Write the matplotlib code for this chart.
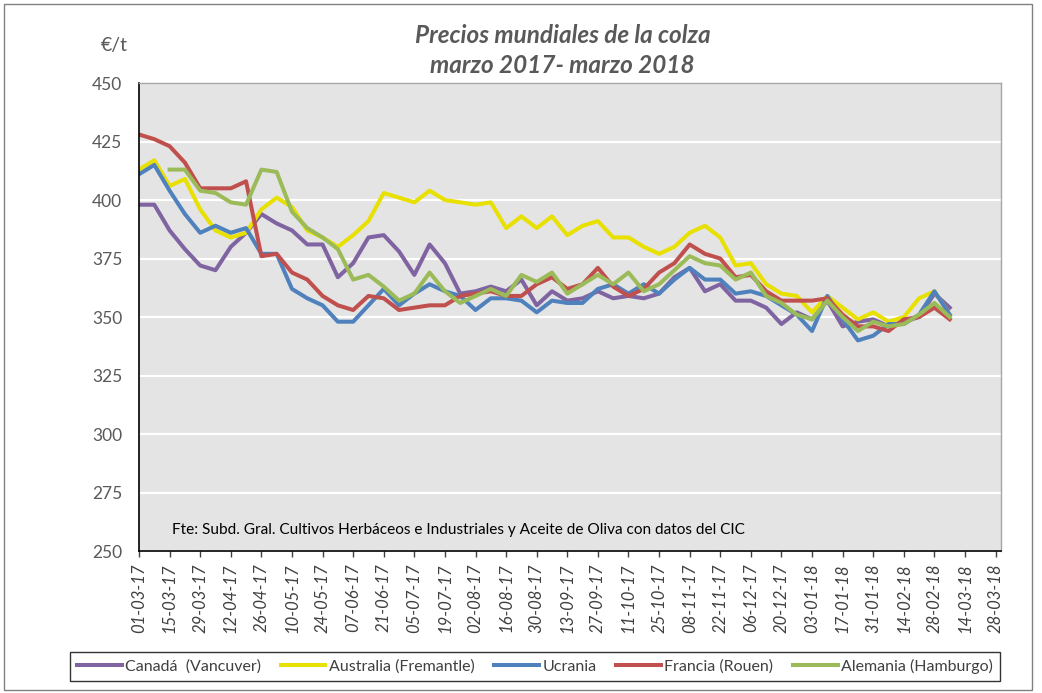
import pandas as pd
import numpy as np
import matplotlib
matplotlib.use("Agg")
import matplotlib.pyplot as plt
import matplotlib.dates as mdates
from matplotlib.patches import Rectangle

plt.rcParams['font.family'] = ['Lato', 'DejaVu Sans']

# Weekly prices (EUR/t), first week 01-03-17
START = "2017-03-01"
canada = [398, 398, 387, 379, 372, 370, 380, 386, 394, 390,
          387, 381, 381, 367, 373, 384, 385, 378, 368, 381,
          373, 360, 361, 363, 361, 366, 355, 361, 357, 358,
          361, 358, 359, 358, 360, 367, 371, 361, 364, 357,
          357, 354, 347, 352, 349, 357, 346, 348, 349, 346,
          348, 350, 360, 354]
australia = [413, 417, 406, 409, 396, 387, 384, 386, 396, 401,
             397, 387, 384, 380, 385, 391, 403, 401, 399, 404,
             400, 399, 398, 399, 388, 393, 388, 393, 385, 389,
             391, 384, 384, 380, 377, 380, 386, 389, 384, 372,
             373, 364, 360, 359, 352, 359, 354, 349, 352, 348,
             350, 358, 361, 351]
ucrania = [411, 415, 404, 394, 386, 389, 386, 388, 377, 377,
           362, 358, 355, 348, 348, 355, 362, 355, 360, 364,
           361, 359, 353, 358, 358, 357, 352, 357, 356, 356,
           362, 364, 360, 364, 360, 366, 371, 366, 366, 360,
           361, 359, 355, 351, 344, 359, 349, 340, 342, 347,
           347, 351, 361, 351]
francia = [428, 426, 423, 416, 405, 405, 405, 408, 376, 377,
           369, 366, 359, 355, 353, 359, 358, 353, 354, 355,
           355, 359, 360, 361, 359, 359, 364, 367, 362, 364,
           371, 363, 359, 362, 369, 373, 381, 377, 375, 367,
           368, 361, 357, 357, 357, 358, 351, 346, 346, 344,
           349, 350, 354, 349]
alemania = [np.nan, np.nan, 413, 413, 404, 403, 399, 398, 413, 412,
            395, 388, 384, 379, 366, 368, 363, 357, 360, 369,
            361, 356, 359, 362, 359, 368, 365, 369, 360, 364,
            368, 364, 369, 361, 364, 370, 376, 373, 372, 366,
            369, 359, 356, 351, 349, 357, 350, 344, 348, 346,
            347, 351, 356, 350]

series = [("Canadá  (Vancuver)", canada, "#8064A2"),
          ("Australia (Fremantle)", australia, "#E8E000"),
          ("Ucrania", ucrania, "#4F81BD"),
          ("Francia (Rouen)", francia, "#C0504D"),
          ("Alemania (Hamburgo)", alemania, "#9BBB59")]

dates = pd.date_range(START, periods=len(canada), freq="7D")
tick_dates = pd.date_range(START, "2018-03-28", freq="14D")

fig = plt.figure(figsize=(10.42, 6.93), dpi=100)
ax = fig.add_axes([0.1334, 0.2049, 0.8273, 0.6753])
ax.set_facecolor("#E4E4E4")

for name, vals, col in series:
    ax.plot(dates, vals, color=col, lw=2.9, label=name, solid_joinstyle="round")

ax.set_ylim(250, 450)
ax.set_yticks(range(250, 451, 25))
ax.set_xlim(pd.Timestamp(START), pd.Timestamp("2018-03-30 12:00"))
ax.set_xticks(tick_dates)
ax.xaxis.set_major_formatter(mdates.DateFormatter("%d-%m-%y"))
ax.grid(axis="y", color="white", lw=1.6)
ax.set_axisbelow(True)

for lab in ax.get_xticklabels():
    lab.set_rotation(90)
    lab.set_style("italic")
ax.tick_params(axis="x", direction="out", length=4, width=1, pad=5,
               labelsize=12, colors="#404040")
ax.tick_params(axis="y", length=0, pad=12, labelsize=12.5, labelcolor="#595959")

ax.spines["left"].set_color("black")
ax.spines["bottom"].set_color("black")
ax.spines["left"].set_linewidth(1.2)
ax.spines["bottom"].set_linewidth(1.2)
for s in ("top", "right"):
    ax.spines[s].set_color("#A6A6A6")
    ax.spines[s].set_linewidth(1)

ax.text(0.038, 0.045, "Fte: Subd. Gral. Cultivos Herbáceos e Industriales y Aceite de Oliva con datos del CIC",
        transform=ax.transAxes, fontsize=11.1, color="black", va="center")

fig.text(0.54, 0.949, "Precios mundiales de la colza", ha="center", va="center",
         fontsize=17.5, fontweight="bold", style="italic", color="#595959")
fig.text(0.54, 0.905, "marzo 2017- marzo 2018", ha="center", va="center",
         fontsize=17.5, fontweight="bold", style="italic", color="#595959")
fig.text(0.097, 0.935, "€/t", ha="left", va="center", fontsize=14, color="#595959")

leg = fig.legend(loc="center", bbox_to_anchor=(0.5134, 0.0382), ncol=5, fontsize=11.5,
                 frameon=True, fancybox=False, handlelength=2.8, handletextpad=0.2,
                 columnspacing=1.25, borderpad=0.45)
leg.get_frame().set_edgecolor("black")
leg.get_frame().set_linewidth(1)
for t in leg.get_texts():
    t.set_color("#404040")

fig.patches.append(Rectangle((0.004, 0.005), 0.986, 0.989, transform=fig.transFigure,
                             fill=False, edgecolor="#808080", lw=1))

fig.savefig("out.png", dpi=100)
